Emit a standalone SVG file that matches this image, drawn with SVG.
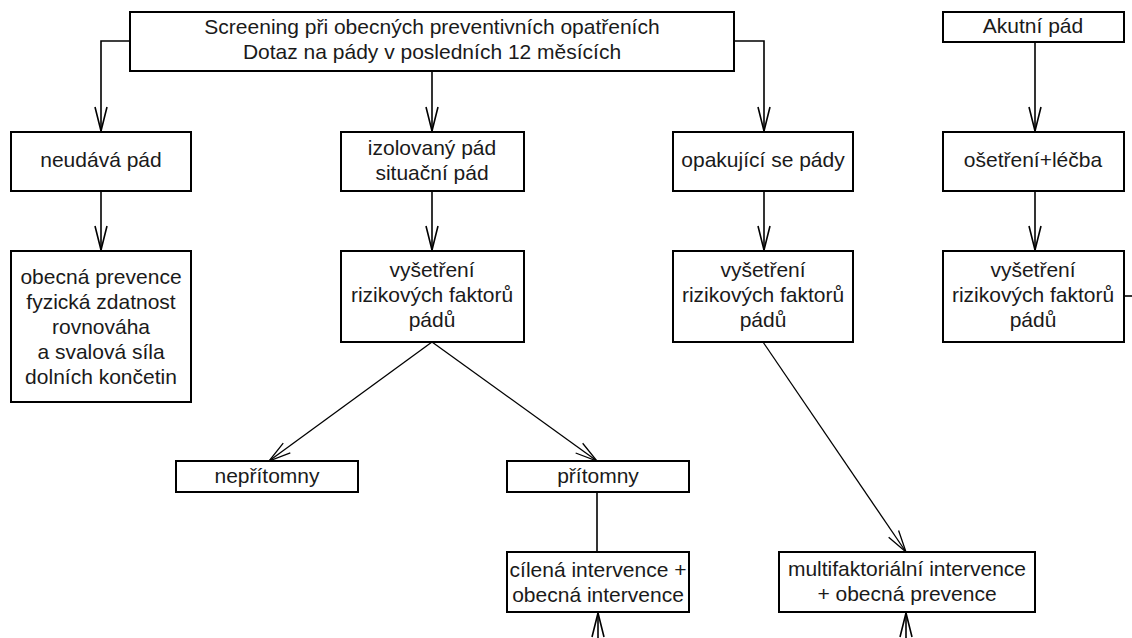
<svg xmlns="http://www.w3.org/2000/svg" width="1132" height="638" viewBox="0 0 1132 638">
<defs>
<style>
.box{fill:#fff;stroke:#000;stroke-width:2}
.t{font-family:"Liberation Sans",Arial,sans-serif;font-size:21px;fill:#1a1a1a;text-anchor:middle}
.c{fill:none;stroke:#000;stroke-width:1.6}
.d{fill:none;stroke:#000;stroke-width:1.3}
</style>
<marker id="ah" markerUnits="userSpaceOnUse" markerWidth="30" markerHeight="16" viewBox="-26 -8 28 16" refX="0" refY="0" orient="auto">
<path d="M-24,-6 L0,0 L-24,6" fill="none" stroke="#000" stroke-width="1.6"/>
</marker>
<marker id="ah2" markerUnits="userSpaceOnUse" markerWidth="30" markerHeight="16" viewBox="-26 -8 28 16" refX="0" refY="0" orient="auto">
<path d="M-22,-6 L0,0 L-22,6" fill="none" stroke="#000" stroke-width="1.3"/>
</marker>
</defs>
<rect width="1132" height="638" fill="#fff"/>
<g id="connectors">
<path class="c" d="M130,41 H101 V131" marker-end="url(#ah)"/>
<path class="c" d="M432,71 V131" marker-end="url(#ah)"/>
<path class="c" d="M734,41 H764 V131" marker-end="url(#ah)"/>
<path class="c" d="M1035,42 V131" marker-end="url(#ah)"/>
<path class="c" d="M101,191 V250" marker-end="url(#ah)"/>
<path class="c" d="M432,191 V250" marker-end="url(#ah)"/>
<path class="c" d="M764,191 V250" marker-end="url(#ah)"/>
<path class="c" d="M1035,191 V250" marker-end="url(#ah)"/>
<path class="d" d="M432,342 L269,461" marker-end="url(#ah2)"/>
<path class="d" d="M432,342 L597,461" marker-end="url(#ah2)"/>
<path class="d" d="M763,342 L906,552" marker-end="url(#ah2)"/>
<path class="c" d="M597,492 V552"/>
<path class="c" d="M598,640 V613" marker-end="url(#ah)"/>
<path class="c" d="M906,640 V613" marker-end="url(#ah)"/>
<path class="c" d="M1124,296 H1132"/>
</g>
<g id="n-screening">
<rect class="box" x="130" y="12" width="604" height="59"/>
<text class="t" x="432" y="34">Screening při obecných preventivních opatřeních</text>
<text class="t" x="432" y="59">Dotaz na pády v posledních 12 měsících</text>
</g>
<g id="n-akutni">
<rect class="box" x="943" y="12" width="181" height="30"/>
<text class="t" x="1033" y="33">Akutní pád</text>
</g>
<g id="n-neudava">
<rect class="box" x="11" y="132" width="180" height="59"/>
<text class="t" x="101" y="167">neudává pád</text>
</g>
<g id="n-izolovany">
<rect class="box" x="341" y="132" width="183" height="59"/>
<text class="t" x="432" y="155">izolovaný pád</text>
<text class="t" x="432" y="180">situační pád</text>
</g>
<g id="n-opakujici">
<rect class="box" x="673" y="132" width="180" height="59"/>
<text class="t" x="763" y="167">opakující se pády</text>
</g>
<g id="n-osetreni">
<rect class="box" x="943" y="132" width="181" height="59"/>
<text class="t" x="1033" y="167">ošetření+léčba</text>
</g>
<g id="n-obecna">
<rect class="box" x="11" y="251" width="180" height="151"/>
<text class="t" x="101" y="284">obecná prevence</text>
<text class="t" x="101" y="309">fyzická zdatnost</text>
<text class="t" x="101" y="334">rovnováha</text>
<text class="t" x="101" y="359">a svalová síla</text>
<text class="t" x="101" y="384">dolních končetin</text>
</g>
<g id="n-vysetreni1">
<rect class="box" x="341" y="251" width="183" height="91"/>
<text class="t" x="432" y="277">vyšetření</text>
<text class="t" x="432" y="302">rizikových faktorů</text>
<text class="t" x="432" y="327">pádů</text>
</g>
<g id="n-vysetreni2">
<rect class="box" x="673" y="251" width="180" height="91"/>
<text class="t" x="763" y="277">vyšetření</text>
<text class="t" x="763" y="302">rizikových faktorů</text>
<text class="t" x="763" y="327">pádů</text>
</g>
<g id="n-vysetreni3">
<rect class="box" x="943" y="251" width="181" height="91"/>
<text class="t" x="1033" y="277">vyšetření</text>
<text class="t" x="1033" y="302">rizikových faktorů</text>
<text class="t" x="1033" y="327">pádů</text>
</g>
<g id="n-nepritomny">
<rect class="box" x="176" y="461" width="182" height="31"/>
<text class="t" x="267" y="483">nepřítomny</text>
</g>
<g id="n-pritomny">
<rect class="box" x="507" y="461" width="182" height="31"/>
<text class="t" x="598" y="483">přítomny</text>
</g>
<g id="n-cilena">
<rect class="box" x="507" y="552" width="182" height="60"/>
<text class="t" x="598" y="577">cílená intervence +</text>
<text class="t" x="598" y="602">obecná intervence</text>
</g>
<g id="n-multi">
<rect class="box" x="779" y="552" width="256" height="60"/>
<text class="t" x="907" y="576">multifaktoriální intervence</text>
<text class="t" x="907" y="601">+ obecná prevence</text>
</g>
</svg>
